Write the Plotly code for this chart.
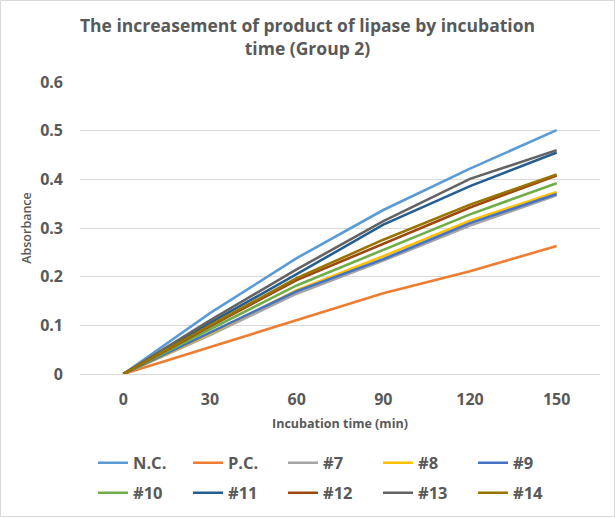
import plotly.graph_objects as go

times = ["0", "30", "60", "90", "120", "150"]
series_names = ["N.C.", "P.C.", "#7", "#8", "#9", "#10", "#11", "#12", "#13", "#14"]
nc = [0, 0.125, 0.238, 0.337, 0.422, 0.501]
pc = [0, 0.055, 0.111, 0.166, 0.211, 0.263]
s7 = [0, 0.080, 0.165, 0.233, 0.305, 0.367]
s8 = [0, 0.083, 0.172, 0.242, 0.315, 0.374]
s9 = [0, 0.085, 0.170, 0.236, 0.310, 0.370]
s10 = [0, 0.092, 0.182, 0.255, 0.328, 0.392]
s11 = [0, 0.105, 0.205, 0.307, 0.386, 0.455]
s12 = [0, 0.098, 0.193, 0.268, 0.342, 0.408]
s13 = [0, 0.110, 0.215, 0.314, 0.401, 0.460]
s14 = [0, 0.100, 0.197, 0.276, 0.348, 0.410]
values = [nc, pc, s7, s8, s9, s10, s11, s12, s13, s14]
colors = ["#5B9BD5", "#ED7D31", "#A5A5A5", "#FFC000", "#4472C4",
          "#70AD47", "#255E91", "#9E480E", "#636363", "#997300"]

FONT = "Open Sans"
TXT = "#595959"

fig = go.Figure()
for i, (name, vals, col) in enumerate(zip(series_names, values, colors)):
    fig.add_trace(go.Scatter(
        x=times, y=vals, name=name, mode="lines",
        line=dict(color=col, width=2.6),
        legend="legend" if i < 5 else "legend2",
    ))

legend_common = dict(
    orientation="h", xanchor="left", yanchor="middle",
    xref="paper", yref="container",
    font=dict(family=FONT, size=16.5, color=TXT, weight="bold"),
    entrywidth=50, entrywidthmode="pixels",
    bgcolor="rgba(0,0,0,0)", tracegroupgap=0, itemwidth=30,
)

fig.update_layout(
    width=615, height=518,
    margin=dict(l=80, r=15, t=82, b=144, autoexpand=False),
    paper_bgcolor="white", plot_bgcolor="white",
    title=dict(
        text="The increasement of product of lipase by incubation<br>time (Group 2)",
        x=0.5, xanchor="center", yref="container", y=0.938, yanchor="top",
        font=dict(family=FONT, size=17.5, color=TXT, weight="bold"),
    ),
    xaxis=dict(
        type="category", range=[-0.5, 5.5], showgrid=False,
        showline=False, ticks="", zeroline=False, ticklabelstandoff=14,
        tickfont=dict(family=FONT, size=16, color=TXT, weight="bold"),
        title=dict(text="Incubation time (min)", standoff=10,
                   font=dict(family=FONT, size=12.5, color=TXT, weight="bold")),
    ),
    yaxis=dict(
        range=[0, 0.6], dtick=0.1, tickformat="~g",
        showgrid=True, gridcolor="#D9D9D9", gridwidth=1,
        zeroline=True, zerolinecolor="#D9D9D9", zerolinewidth=1,
        showline=False, ticks="", ticklen=0, ticklabelstandoff=16,
        tickfont=dict(family=FONT, size=16, color=TXT, weight="bold"),
        title=dict(text="Absorbance", standoff=5,
                   font=dict(family=FONT, size=12.5, color=TXT, weight=600)),
    ),
    legend=dict(x=0.025, y=(518 - 463) / 518, **legend_common),
    legend2=dict(x=0.025, y=(518 - 493) / 518, **legend_common),
    shapes=[dict(type="rect", xref="paper", yref="paper",
                 x0=-79.5/520, x1=1+14.5/520, y0=-142.5/292, y1=1+81.5/292,
                 line=dict(color="#D9D9D9", width=1))],
)

fig.write_html("out.html", config={"displayModeBar": False},
               post_script="document.body.style.margin='0';")
